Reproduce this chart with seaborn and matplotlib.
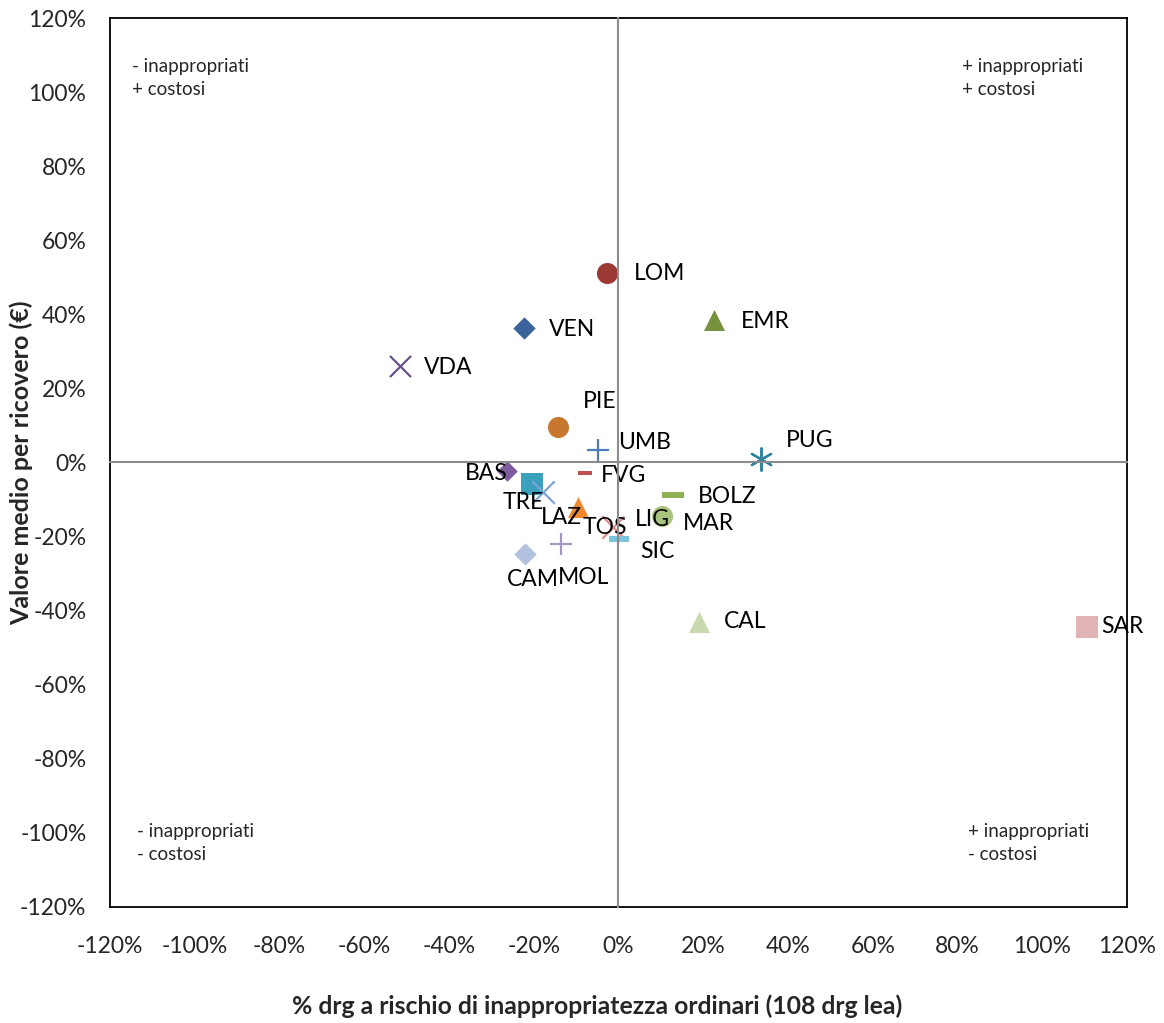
import matplotlib
matplotlib.use("Agg")
import matplotlib.pyplot as plt
import matplotlib.ticker as mtick
import seaborn as sns
import pandas as pd

# regional data: x = % drg a rischio di inappropriatezza, y = valore medio per ricovero
regions = ['LOM', 'VEN', 'VDA', 'EMR', 'PIE', 'UMB', 'PUG', 'BAS', 'FVG', 'TRE',
           'LAZ', 'TOS', 'LIG', 'MAR', 'BOLZ', 'SIC', 'CAM', 'MOL', 'CAL', 'SAR']
x_vals = [-2.7, -22.3, -51.6, 22.5, -14.3, -4.8, 33.6, -26.3, -7.9, -20.4,
          -17.8, -9.6, -1.3, 10.3, 12.9, 0.1, -22.1, -13.6, 19.0, 110.5]
y_vals = [51.1, 36.3, 26.0, 38.5, 9.6, 3.4, 0.9, -2.3, -2.8, -5.8,
          -8.0, -12.0, -17.4, -14.4, -8.8, -20.6, -24.7, -22.0, -43.0, -44.4]
ticks = [-120, -100, -80, -60, -40, -20, 0, 20, 40, 60, 80, 100, 120]

df = pd.DataFrame({'region': regions, 'x': x_vals, 'y': y_vals})

dash = [(-1, -0.28), (1, -0.28), (1, 0.28), (-1, 0.28), (-1, -0.28)]
style = {
    'LOM': ('o', '#9B3A35', 230), 'VEN': ('D', '#3C649C', 130), 'VDA': ('x', '#6A4F8A', 230),
    'EMR': ('^', '#76923C', 230), 'PIE': ('o', '#C8772F', 230), 'UMB': ('+', '#4A7EBB', 230),
    'PUG': ((6, 2, 0), '#31859C', 260), 'BAS': ('D', '#7E5C9E', 110), 'FVG': (dash, '#C0504D', 110),
    'TRE': ('s', '#3AA0BD', 230), 'LAZ': ('x', '#7EA3D6', 260), 'TOS': ('^', '#F0892F', 230),
    'LIG': ('x', '#E08E8C', 260), 'MAR': ('o', '#A9C47F', 230), 'BOLZ': (dash, '#8DB255', 260),
    'SIC': (dash, '#7CC3DD', 200), 'CAM': ('D', '#B1C1DE', 130), 'MOL': ('+', '#A596C0', 230),
    'CAL': ('^', '#C8D9B0', 230), 'SAR': ('s', '#E0B4B4', 230),
}
# label offsets in pixels from the marker
label_off = {
    'LOM': (27, 0, 'left'), 'VEN': (25, -1, 'left'), 'VDA': (24, -1, 'left'), 'EMR': (27, -2, 'left'),
    'PIE': (25, 25, 'left'), 'UMB': (20, 7, 'left'), 'PUG': (25, 19, 'left'), 'BAS': (1, -2, 'right'),
    'FVG': (16, -3, 'left'), 'TRE': (-29, -19, 'left'), 'LAZ': (-2, -25, 'left'), 'TOS': (5, -21, 'left'),
    'LIG': (22, 7, 'left'), 'MAR': (21, -8, 'left'), 'BOLZ': (25, -1, 'left'), 'SIC': (21, -13, 'left'),
    'CAM': (-18, -26, 'left'), 'MOL': (-3, -34, 'left'), 'CAL': (25, 0, 'left'), 'SAR': (14, 0, 'left'),
}

sns.set_style('white')
plt.rcParams['font.family'] = ['Lato', 'DejaVu Sans']

fig = plt.figure(figsize=(11.64, 10.23), dpi=100)
pos = [0.0945, 0.1134, 0.8737, 0.869]
ax = fig.add_axes(pos)

# zero axes drawn as a second, transparent axes with centred spines
ax0 = fig.add_axes(pos, sharex=ax, sharey=ax)
ax0.patch.set_visible(False)
for s in ['top', 'right']:
    ax0.spines[s].set_visible(False)
for s in ['left', 'bottom']:
    ax0.spines[s].set_position(('data', 0))
    ax0.spines[s].set_color('#8C8C8C')
    ax0.spines[s].set_linewidth(1.5)
ax0.tick_params(axis='both', direction='out', length=10, width=1.2, color='#8C8C8C',
                labelleft=False, labelbottom=False)

for _, row in df.iterrows():
    m, c, s = style[row['region']]
    line = m in ('x', '+') or (isinstance(m, tuple))
    if line:
        sns.scatterplot(x=[row['x']], y=[row['y']], marker=m, color=c, s=s, linewidth=1.6, ax=ax, zorder=3)
    else:
        sns.scatterplot(x=[row['x']], y=[row['y']], marker=m, color=c, s=s, linewidth=0, ax=ax, zorder=3)
    dx, dy, ha = label_off[row['region']]
    ax.annotate(row['region'], (row['x'], row['y']), xytext=(dx, dy), textcoords='offset pixels',
                ha=ha, va='center', fontsize=16.5, color='black', zorder=4)

ax.set_xlim(-120, 120)
ax.set_ylim(-120, 120)
ax.set_xticks(ticks)
ax.set_yticks(ticks)
ax.xaxis.set_major_formatter(mtick.FuncFormatter(lambda v, p: f'{v:.0f}%'))
ax.yaxis.set_major_formatter(mtick.FuncFormatter(lambda v, p: f'{v:.0f}%'))
ax.tick_params(axis='x', length=0, pad=21, labelsize=16.5)
ax.tick_params(axis='y', length=0, pad=17, labelsize=16.5)
for s in ax.spines.values():
    s.set_visible(True)
    s.set_color('black')
    s.set_linewidth(1.3)

ax.set_xlabel('% drg a rischio di inappropriatezza ordinari (108 drg lea)', fontsize=17.8, fontweight='bold')
ax.set_ylabel('Valore medio per ricovero (€)', fontsize=18, fontweight='bold')
ax.xaxis.set_label_coords(0.479, -0.098)
ax.yaxis.set_label_coords(-0.076, 0.5)

notes = [(0.022, 0.955, '- inappropriati\n+ costosi'), (0.838, 0.955, '+ inappropriati\n+ costosi'),
         (0.027, 0.095, '- inappropriati\n- costosi'), (0.844, 0.095, '+ inappropriati\n- costosi')]
for nx, ny, t in notes:
    ax.text(nx, ny, t, transform=ax.transAxes, fontsize=13.5, va='top', ha='left', linespacing=1.45)

fig.savefig('out.png', dpi=100)
